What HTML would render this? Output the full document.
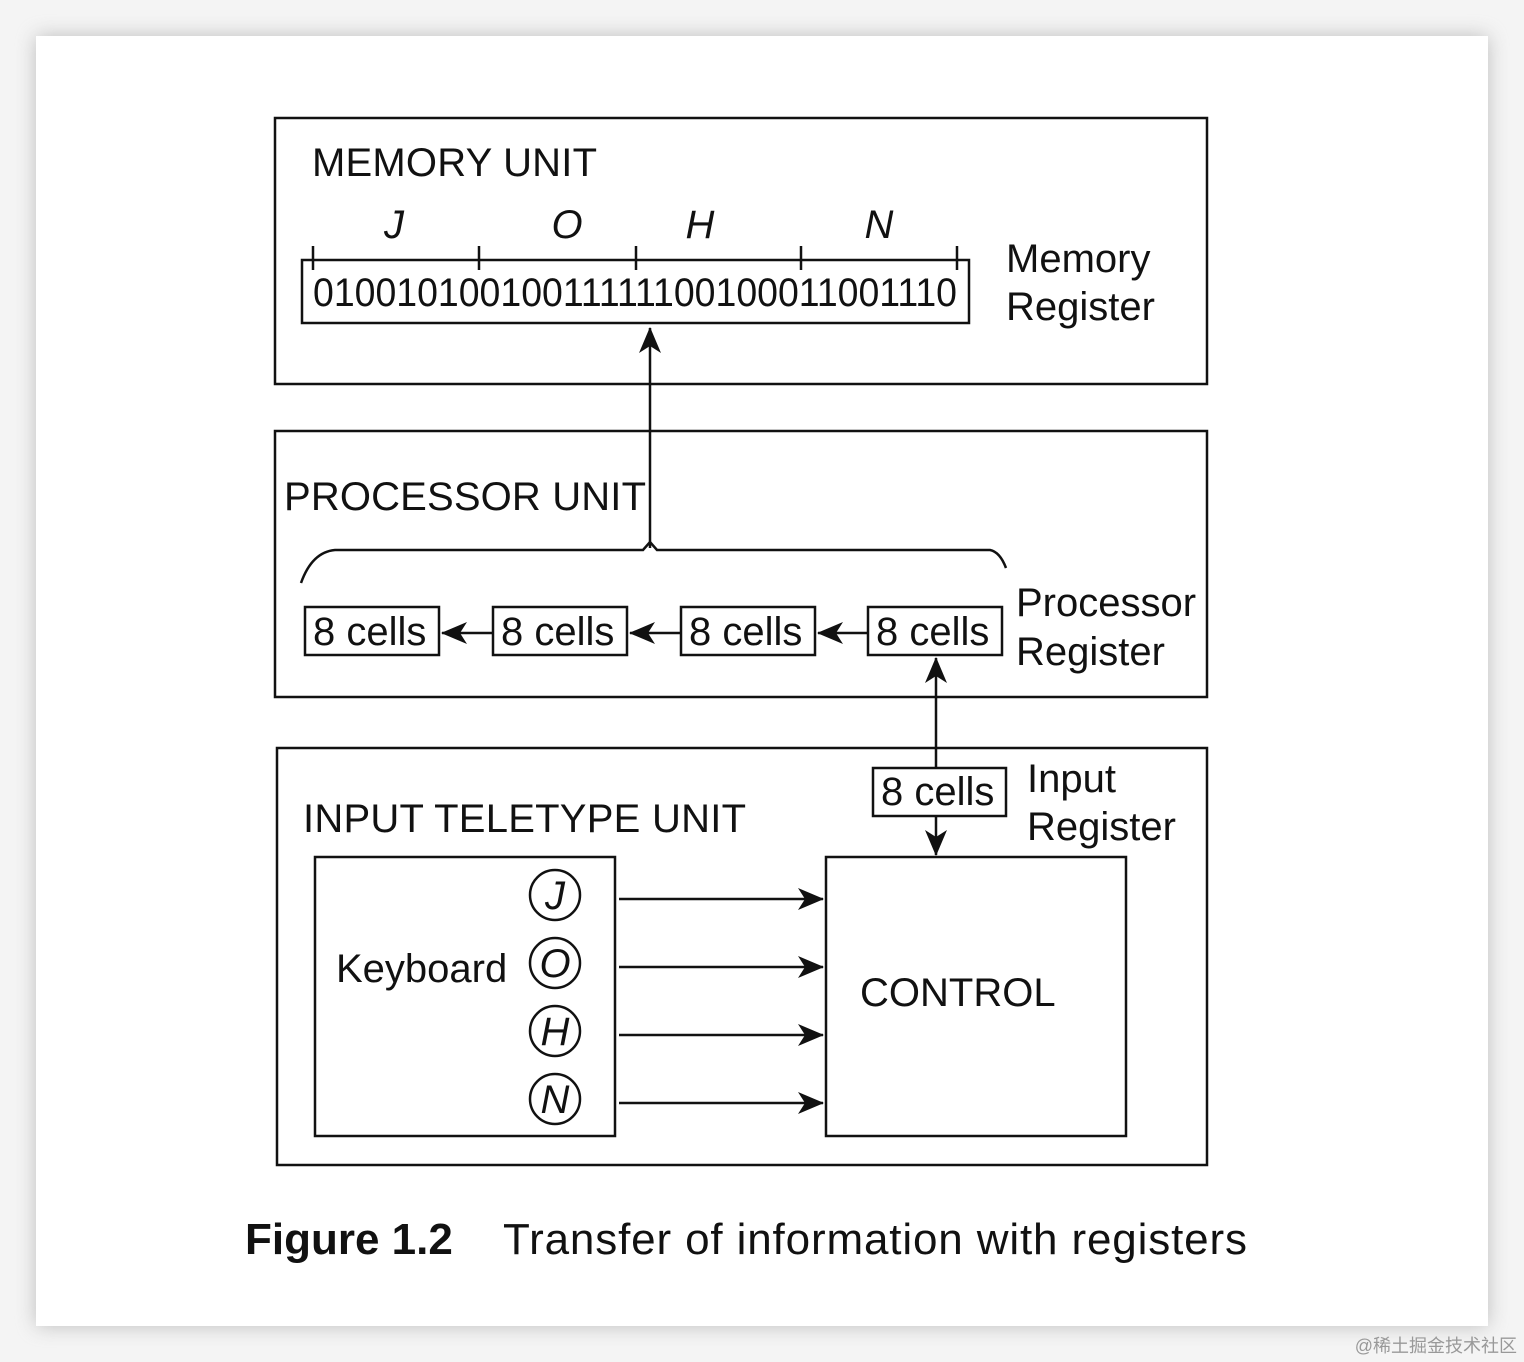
<!DOCTYPE html>
<html><head><meta charset="utf-8"><style>
html,body{margin:0;padding:0;background:#fff;}
svg{display:block;}
text{font-family:"Liberation Sans",Arial,sans-serif;fill:#111;}
</style></head><body>
<svg width="1524" height="1362" viewBox="0 0 1524 1362" xmlns="http://www.w3.org/2000/svg">
<defs>
<filter id="sh" x="-5%" y="-5%" width="110%" height="110%"><feGaussianBlur stdDeviation="10"/></filter>
<marker id="ab" markerWidth="26" markerHeight="22" refX="25" refY="11" orient="auto" markerUnits="userSpaceOnUse" viewBox="0 0 26 22">
<path d="M0,0 L26,11 L0,22 L7,11 Z" fill="#111"/></marker>
</defs>
<rect x="0" y="0" width="1524" height="1362" fill="#f4f4f4"/>
<rect x="36" y="36" width="1452" height="1290" fill="#888" filter="url(#sh)" opacity="0.5"/>
<rect x="36" y="36" width="1452" height="1290" fill="#fff"/>
<g fill="none" stroke="#111" stroke-width="2.5">
<rect x="275" y="118" width="932" height="266"/>
<rect x="302" y="260" width="667" height="63"/>
<path d="M313,246V270 M479,246V270 M636,246V270 M801,246V270 M957,246V270"/>
<path d="M650,548V328" marker-end="url(#ab)"/>
<rect x="275" y="431" width="932" height="266"/>
<path d="M301,583 Q312,552 335,550 H643 L650,542 L657,550 H990 Q1000,552 1006,568"/>
<rect x="305" y="607" width="134" height="48"/>
<rect x="493" y="607" width="134" height="48"/>
<rect x="681" y="607" width="134" height="48"/>
<rect x="868" y="607" width="134" height="48"/>
<path d="M493,633H442" marker-end="url(#ab)"/>
<path d="M681,633H630" marker-end="url(#ab)"/>
<path d="M868,633H818" marker-end="url(#ab)"/>
<path d="M936,768V658" marker-end="url(#ab)"/>
<rect x="873" y="768" width="133" height="48"/>
<path d="M936,816V855" marker-end="url(#ab)"/>
<rect x="277" y="748" width="930" height="417"/>
<rect x="315" y="857" width="300" height="279"/>
<rect x="826" y="857" width="300" height="279"/>
<circle cx="555" cy="895" r="25"/><circle cx="555" cy="963" r="25"/><circle cx="555" cy="1031" r="25"/><circle cx="555" cy="1099" r="25"/>
<path d="M619,899H823" marker-end="url(#ab)"/>
<path d="M619,967H823" marker-end="url(#ab)"/>
<path d="M619,1035H823" marker-end="url(#ab)"/>
<path d="M619,1103H823" marker-end="url(#ab)"/>
</g>
<g font-size="40">
<text x="312" y="176" textLength="285">MEMORY UNIT</text>
<g font-style="italic"><text x="394" y="238" text-anchor="middle">J</text><text x="567" y="238" text-anchor="middle">O</text><text x="700" y="238" text-anchor="middle">H</text><text x="879" y="238" text-anchor="middle">N</text></g>
<text x="313" y="306" textLength="644" lengthAdjust="spacingAndGlyphs">01001010010011111100100011001110</text>
<text x="1006" y="272">Memory</text><text x="1006" y="320">Register</text>
<text x="284" y="510" textLength="362">PROCESSOR UNIT</text>
<text x="313" y="645">8 cells</text><text x="501" y="645">8 cells</text><text x="689" y="645">8 cells</text><text x="876" y="645">8 cells</text>
<text x="1016" y="616">Processor</text><text x="1016" y="665">Register</text>
<text x="881" y="805">8 cells</text>
<text x="1027" y="792">Input</text><text x="1027" y="840">Register</text>
<text x="303" y="832" textLength="443">INPUT TELETYPE UNIT</text>
<text x="336" y="982">Keyboard</text>
<g font-style="italic" text-anchor="middle"><text x="555" y="909">J</text><text x="555" y="977">O</text><text x="555" y="1045">H</text><text x="555" y="1113">N</text></g>
<text x="860" y="1006">CONTROL</text>
</g>
<text x="245" y="1254" font-size="44" font-weight="bold" fill="#222">Figure 1.2</text>
<text x="503" y="1254" font-size="44" textLength="744" fill="#222">Transfer of information with registers</text>
<text x="1517" y="1352" font-size="18" text-anchor="end" style="font-family:'Liberation Sans','Noto Sans CJK SC',sans-serif;fill:#999">@稀土掘金技术社区</text>
</svg>
</body></html>
